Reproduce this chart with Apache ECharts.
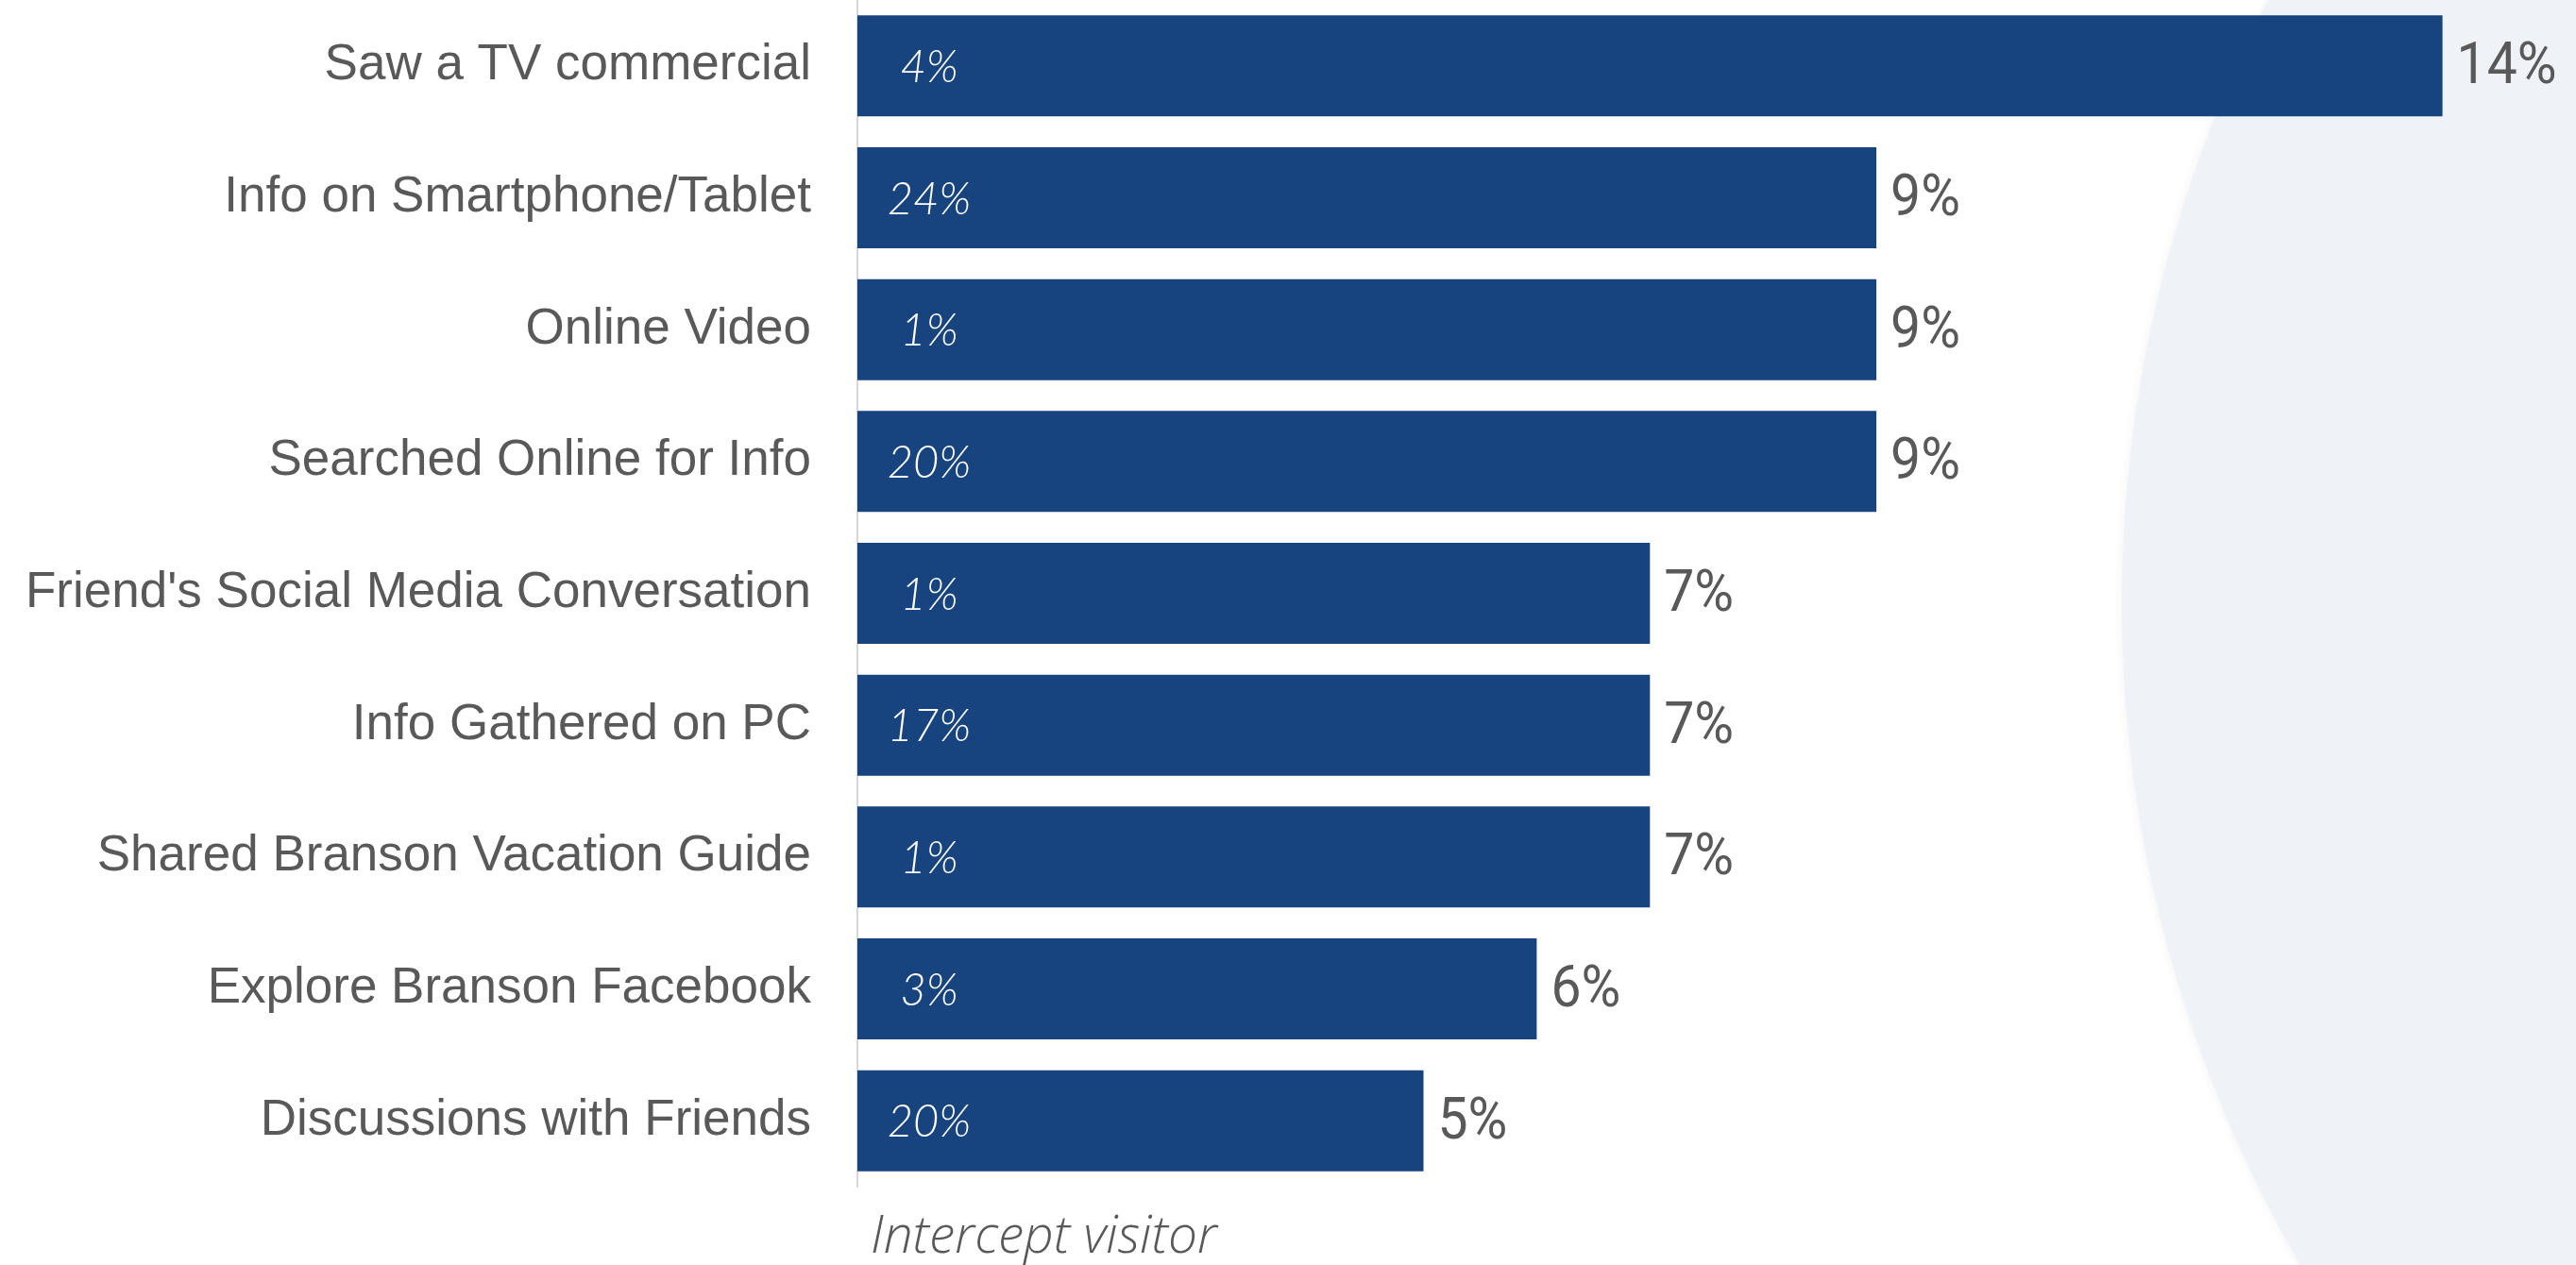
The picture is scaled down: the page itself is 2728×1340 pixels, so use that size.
<!DOCTYPE html>
<html>
<head>
<meta charset="utf-8">
<script src="https://cdn.jsdelivr.net/npm/echarts@6/dist/echarts.min.js"></script>
<style>
  html, body { margin: 0; padding: 0; background: #ffffff; }
  #chart { width: 2728px; height: 1340px; }
</style>
</head>
<body>
<div id="chart"></div>
<script>
// Information sources, top to bottom
const categories = [
  "Saw a TV commercial",
  "Info on Smartphone/Tablet",
  "Online Video",
  "Searched Online for Info",
  "Friend's Social Media Conversation",
  "Info Gathered on PC",
  "Shared Branson Vacation Guide",
  "Explore Branson Facebook",
  "Discussions with Friends"
];
// Share (%) drawn as bar length
const values = [14, 9, 9, 9, 7, 7, 7, 6, 5];
// Intercept visitor share (%) shown inside each bar
const interceptValues = [4, 24, 1, 20, 1, 17, 1, 3, 20];
const footnote = "Intercept visitor";

const TEXT_GREY = '#595959';
const BAR_BLUE = '#17437e';

const chart = echarts.init(document.getElementById('chart'), null, { renderer: 'canvas' });

chart.setOption({
  backgroundColor: '#ffffff',
  animation: false,
  graphic: {
    elements: [
      {
        type: 'circle',
        z: -10,
        silent: true,
        shape: { cx: 3642, cy: 639, r: 1395 },
        style: { fill: '#eff2f7', shadowBlur: 12, shadowColor: 'rgba(0,0,0,0.05)' }
      },
      {
        type: 'text',
        z: 10,
        silent: true,
        style: {
          text: footnote,
          x: 922,
          y: 1311,
          fill: TEXT_GREY,
          font: "italic 300 55px 'Open Sans'",
          align: 'left',
          verticalAlign: 'middle'
        }
      }
    ]
  },
  grid: { left: 908, top: -3, width: 1798.5, height: 1260, containLabel: false },
  xAxis: {
    type: 'value',
    min: 0,
    max: 15,
    show: false
  },
  yAxis: {
    type: 'category',
    data: categories,
    inverse: true,
    axisLine: { show: true, lineStyle: { color: '#d6d6d6', width: 2 } },
    axisTick: { show: false },
    axisLabel: {
      color: TEXT_GREY,
      fontFamily: "'Liberation Sans', Arial, sans-serif",
      fontSize: 53,
      margin: 49
    }
  },
  series: [
    {
      name: 'Share',
      type: 'bar',
      data: values,
      barWidth: 107,
      itemStyle: { color: BAR_BLUE },
      z: 2
    },
    {
      name: footnote,
      type: 'bar',
      data: values,
      barWidth: 107,
      barGap: '-100%',
      silent: true,
      itemStyle: { color: 'rgba(0,0,0,0)' },
      label: {
        show: true,
        position: [76, '50%'],
        offset: [0, 2],
        align: 'center',
        verticalAlign: 'middle',
        formatter: p => interceptValues[p.dataIndex] + '%',
        color: '#ffffff',
        fontFamily: 'Lato',
        fontStyle: 'italic',
        fontWeight: 300,
        fontSize: 47
      },
      z: 3
    },
    {
      // value labels at the bar ends, set in a slightly condensed face
      name: 'Share label',
      type: 'custom',
      silent: true,
      data: values.map((v, i) => [v, i]),
      encode: { x: 0, y: 1 },
      renderItem: (params, api) => {
        const pt = api.coord([api.value(0), api.value(1)]);
        return {
          type: 'text',
          x: pt[0] + 15,
          y: pt[1] + 3,
          scaleX: 0.92,
          style: {
            text: api.value(0) + '%',
            font: '62px Roboto',
            fill: TEXT_GREY,
            align: 'left',
            verticalAlign: 'middle'
          }
        };
      },
      z: 4
    }
  ]
});
</script>
</body>
</html>
